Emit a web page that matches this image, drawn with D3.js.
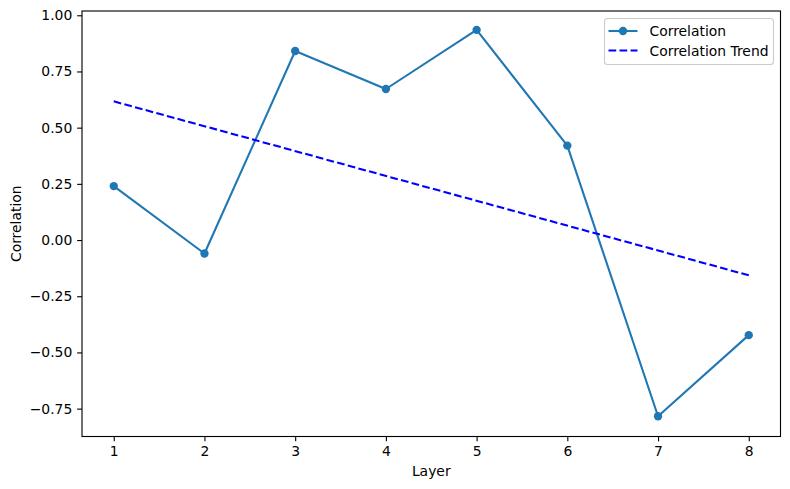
<!DOCTYPE html>
<html><head><meta charset="utf-8">
<script src="https://cdn.jsdelivr.net/npm/d3@7"></script>
<style>body{margin:0;background:#fff}svg{display:block}text{font-family:"DejaVu Sans",sans-serif}</style>
</head><body><svg id="c" width="790" height="489"></svg>
<script>
const layers = [1, 2, 3, 4, 5, 6, 7, 8];
const correlation = [0.240, -0.060, 0.841, 0.672, 0.935, 0.420, -0.784, -0.423];
const trendLayers = [1, 8];
const trendValues = [0.617, -0.157];
const xTicks = [1, 2, 3, 4, 5, 6, 7, 8];
const yTicks = [-0.75, -0.5, -0.25, 0, 0.25, 0.5, 0.75, 1.0];

const svg = d3.select("#c");
const L = 82, R = 780.5, T = 11, B = 436.5;
const x = d3.scaleLinear().domain([0.65, 8.35]).range([L, R]);
const y = d3.scaleLinear().domain([-0.874, 1.019]).range([B, T]);
const fs = 13.9;

// axes
const xAxis = d3.axisBottom(x).tickValues(xTicks).tickFormat(d3.format("d")).tickSize(4.86).tickPadding(4.86);
const yAxis = d3.axisLeft(y).tickValues(yTicks).tickFormat(d => d3.format(".2f")(d).replace("-", "\u2212")).tickSize(4.86).tickPadding(4.86);
const gx = svg.append("g").attr("transform", `translate(0,${B})`).call(xAxis);
const gy = svg.append("g").attr("transform", `translate(${L},0)`).call(yAxis);
[gx, gy].forEach(g => {
  g.select(".domain").remove();
  g.selectAll(".tick line").attr("stroke", "#000").attr("stroke-width", 1.11);
  g.selectAll(".tick text").attr("fill", "#000").attr("font-size", fs).attr("font-family", "DejaVu Sans");
});

// lines
const line = d3.line().x(d => x(d[0])).y(d => y(d[1]));
svg.append("path").datum(layers.map((l, i) => [l, correlation[i]]))
  .attr("d", line).attr("fill", "none").attr("stroke", "#1f77b4").attr("stroke-width", 2.08).attr("stroke-linejoin", "round").attr("stroke-linecap", "butt");
svg.selectAll("circle.pt").data(layers.map((l, i) => [l, correlation[i]])).enter().append("circle")
  .attr("cx", d => x(d[0])).attr("cy", d => y(d[1])).attr("r", 4.17).attr("fill", "#1f77b4");
svg.append("path").datum(trendLayers.map((l, i) => [l, trendValues[i]]))
  .attr("d", line).attr("fill", "none").attr("stroke", "#0000ff").attr("stroke-width", 2.08).attr("stroke-dasharray", "7.7,3.33");

// frame
svg.append("rect").attr("x", L).attr("y", T).attr("width", R - L).attr("height", B - T)
  .attr("fill", "none").attr("stroke", "#000").attr("stroke-width", 1.11);

// labels
svg.append("text").attr("x", (L + R) / 2).attr("y", 476).attr("text-anchor", "middle").attr("font-size", fs).text("Layer");
svg.append("text").attr("transform", `translate(21,${(T + B) / 2}) rotate(-90)`).attr("text-anchor", "middle").attr("font-size", fs).text("Correlation");

// legend
const lg = svg.append("g");
lg.append("rect").attr("x", 604.5).attr("y", 18.5).attr("width", 169).attr("height", 46).attr("rx", 3)
  .attr("fill", "#fff").attr("fill-opacity", 0.8).attr("stroke", "#cccccc").attr("stroke-width", 1.11);
lg.append("line").attr("x1", 608.5).attr("x2", 637.5).attr("y1", 31).attr("y2", 31).attr("stroke", "#1f77b4").attr("stroke-width", 2.08);
lg.append("circle").attr("cx", 623).attr("cy", 31).attr("r", 4.17).attr("fill", "#1f77b4");
lg.append("line").attr("x1", 608.5).attr("x2", 637.5).attr("y1", 50.5).attr("y2", 50.5).attr("stroke", "#0000ff").attr("stroke-width", 2.08).attr("stroke-dasharray", "7.7,3.33");
lg.append("text").attr("x", 649.5).attr("y", 36).attr("font-size", fs).text("Correlation");
lg.append("text").attr("x", 649.5).attr("y", 55.5).attr("font-size", fs).text("Correlation Trend");
</script></body></html>
